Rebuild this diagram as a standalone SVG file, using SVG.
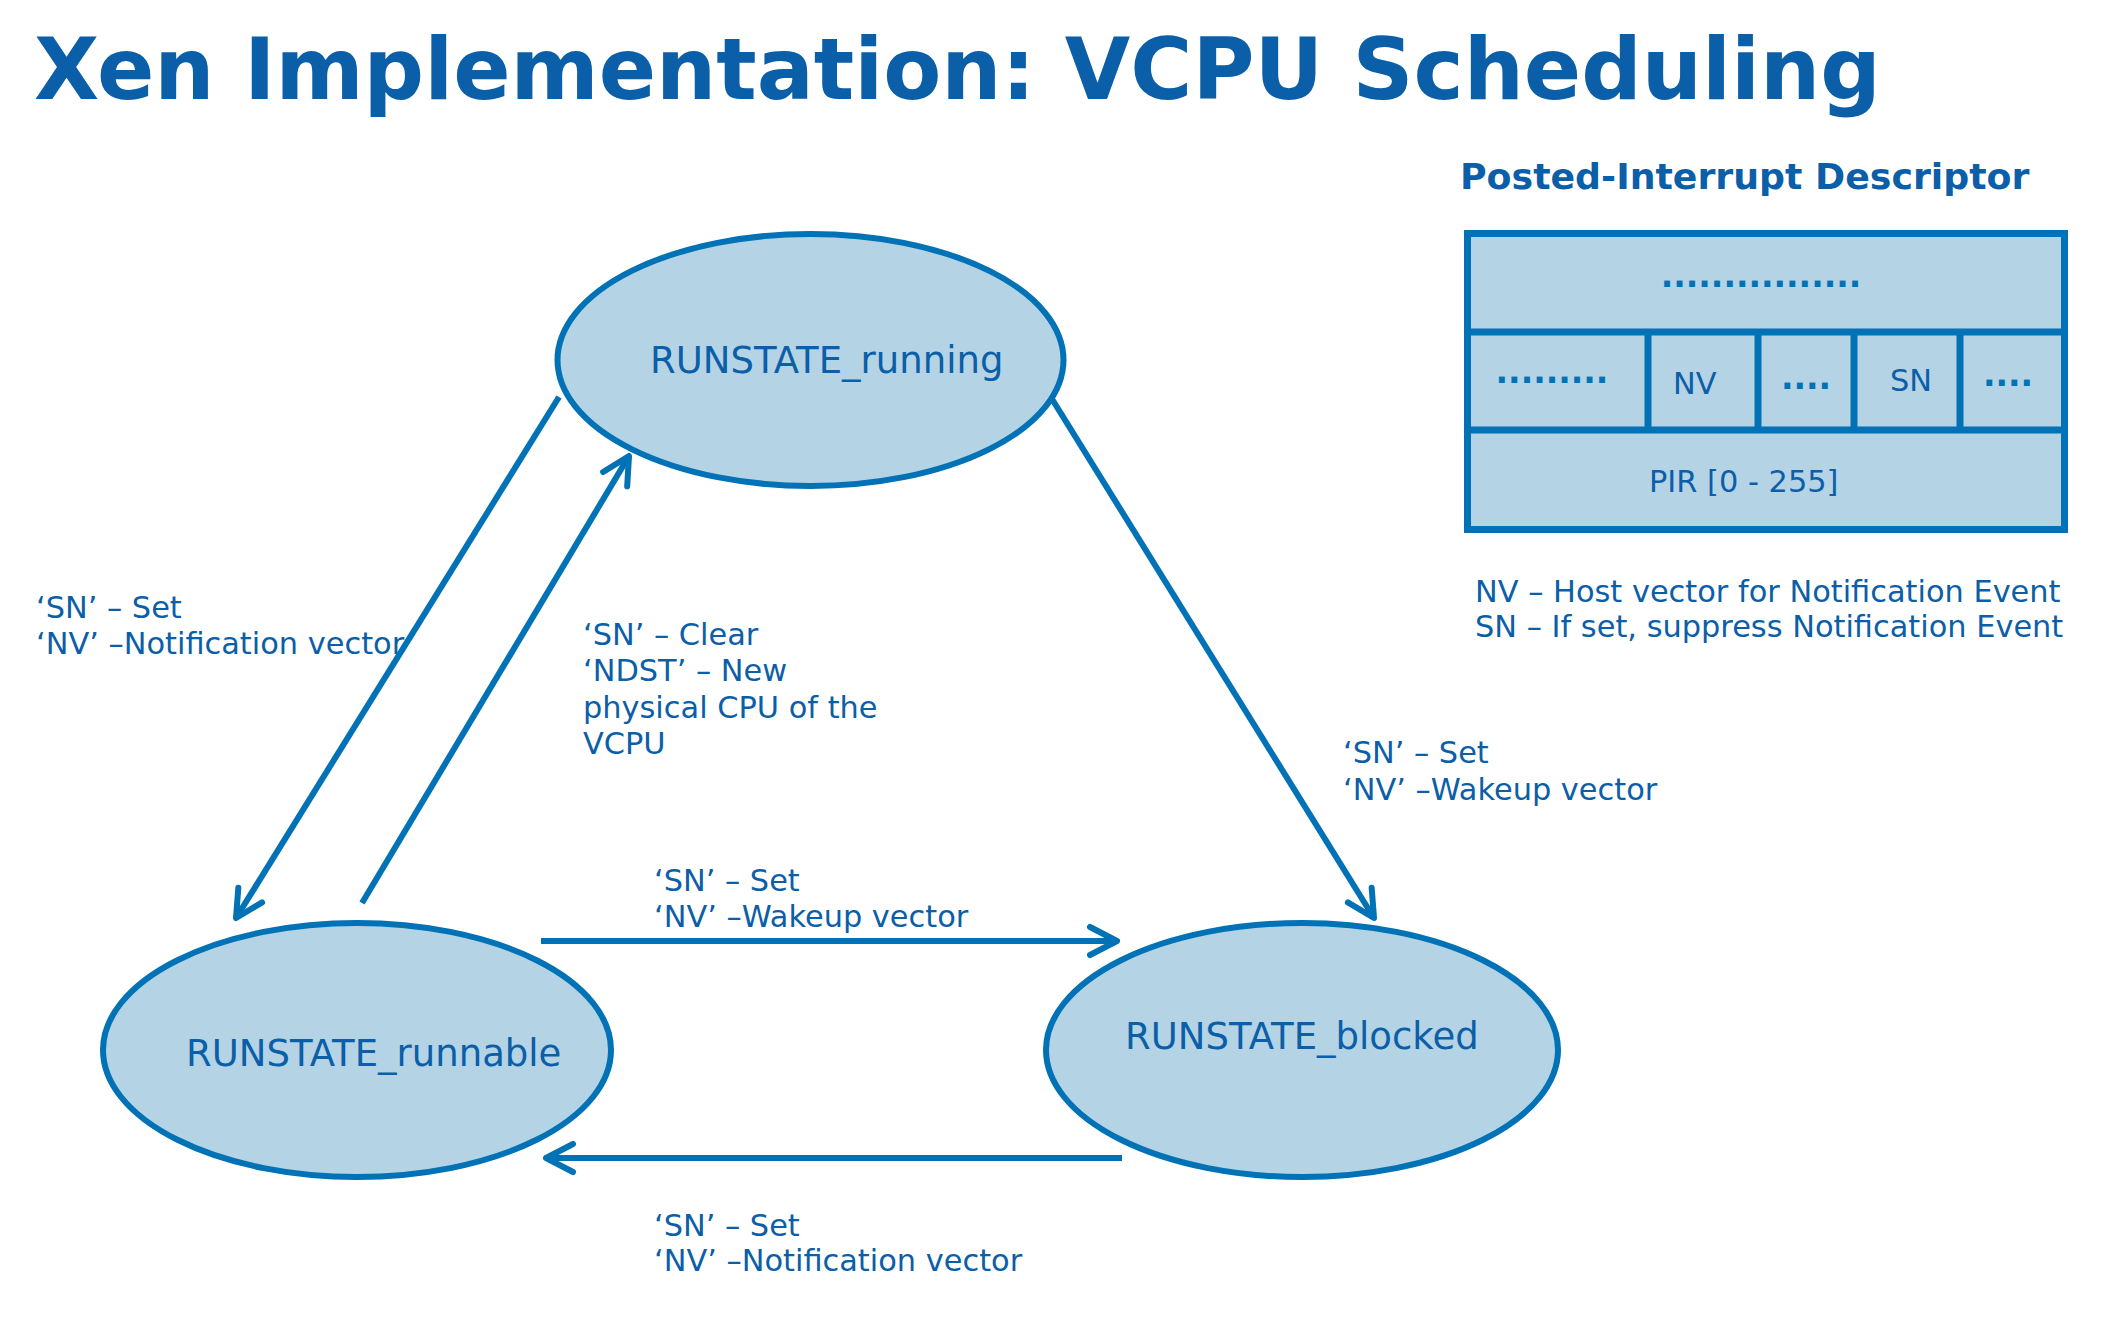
<svg xmlns="http://www.w3.org/2000/svg" width="2105" height="1317" viewBox="0 0 2105 1317">
<style>
text{font-family:"DejaVu Sans","Verdana",sans-serif;fill:#0b5ea8}
.ttl{font-size:84.6px;font-weight:bold}
.sub{font-size:36.3px;font-weight:bold}
.st{font-size:37px}
.lb{font-size:30.4px}
.dot{font-size:33px;font-weight:bold;fill:#0072b5}
.node ellipse{fill:#b4d3e5;stroke:#0072b5;stroke-width:6}
.conn line{stroke:#0072b5;stroke-width:6;fill:none}
.pid rect{fill:#b4d3e5;stroke:#0072b5;stroke-width:7}
.pid line{stroke:#0072b5;stroke-width:7}
</style>
<defs>
<marker id="ah" markerUnits="userSpaceOnUse" viewBox="-32 -20 40 40" refX="0" refY="0" markerWidth="40" markerHeight="40" orient="auto" overflow="visible">
<path d="M-27,-14 L0,0 L-27,14" fill="none" stroke="#0072b5" stroke-width="6" stroke-linecap="round" stroke-linejoin="round"/>
</marker>
</defs>
<rect width="2105" height="1317" fill="#ffffff"/>
<text class="ttl" x="34" y="99">Xen Implementation: VCPU Scheduling</text>

<g id="connectors" class="conn">
<line x1="559" y1="397" x2="236" y2="918" marker-end="url(#ah)"/>
<line x1="362" y1="903" x2="629" y2="456" marker-end="url(#ah)"/>
<line x1="1052" y1="399" x2="1374" y2="918" marker-end="url(#ah)"/>
<line x1="541" y1="941" x2="1117" y2="941" marker-end="url(#ah)"/>
<line x1="1122" y1="1158" x2="546" y2="1158" marker-end="url(#ah)"/>
</g>

<g id="node-running" class="node">
<ellipse cx="810.5" cy="360" rx="253" ry="126"/>
<text class="st" x="650" y="373">RUNSTATE_running</text>
</g>
<g id="node-runnable" class="node">
<ellipse cx="357" cy="1050" rx="254" ry="127"/>
<text class="st" x="186" y="1066">RUNSTATE_runnable</text>
</g>
<g id="node-blocked" class="node">
<ellipse cx="1302" cy="1050" rx="256" ry="127"/>
<text class="st" x="1125" y="1049">RUNSTATE_blocked</text>
</g>

<g id="labels">
<text class="lb" x="36" y="618">‘SN’ – Set</text>
<text class="lb" x="36" y="654">‘NV’ –Notification vector</text>
<text class="lb" x="583" y="645">‘SN’ – Clear</text>
<text class="lb" x="583" y="681">‘NDST’ – New</text>
<text class="lb" x="583" y="718">physical CPU of the</text>
<text class="lb" x="583" y="754">VCPU</text>
<text class="lb" x="1343" y="763">‘SN’ – Set</text>
<text class="lb" x="1343" y="800">‘NV’ –Wakeup vector</text>
<text class="lb" x="654" y="891">‘SN’ – Set</text>
<text class="lb" x="654" y="927">‘NV’ –Wakeup vector</text>
<text class="lb" x="654" y="1236">‘SN’ – Set</text>
<text class="lb" x="654" y="1271">‘NV’ –Notification vector</text>
</g>

<g id="pi-descriptor" class="pid">
<text class="sub" x="1460" y="189">Posted-Interrupt Descriptor</text>
<rect x="1467.5" y="233.5" width="597" height="296"/>
<line x1="1467.5" y1="332" x2="2064.5" y2="332"/>
<line x1="1467.5" y1="430" x2="2064.5" y2="430"/>
<line x1="1648" y1="332" x2="1648" y2="430"/>
<line x1="1758" y1="332" x2="1758" y2="430"/>
<line x1="1854" y1="332" x2="1854" y2="430"/>
<line x1="1960" y1="332" x2="1960" y2="430"/>
<text class="dot" x="1761" y="287" text-anchor="middle">................</text>
<text class="dot" x="1552" y="383" text-anchor="middle">.........</text>
<text class="dot" x="1806" y="389" text-anchor="middle">....</text>
<text class="dot" x="2008" y="386" text-anchor="middle">....</text>
<text class="lb" x="1673" y="394">NV</text>
<text class="lb" x="1890" y="391">SN</text>
<text class="lb" x="1649" y="492">PIR [0 - 255]</text>
</g>

<g id="legend">
<text class="lb" x="1475" y="602">NV – Host vector for Notification Event</text>
<text class="lb" x="1475" y="637">SN – If set, suppress Notification Event</text>
</g>
</svg>
